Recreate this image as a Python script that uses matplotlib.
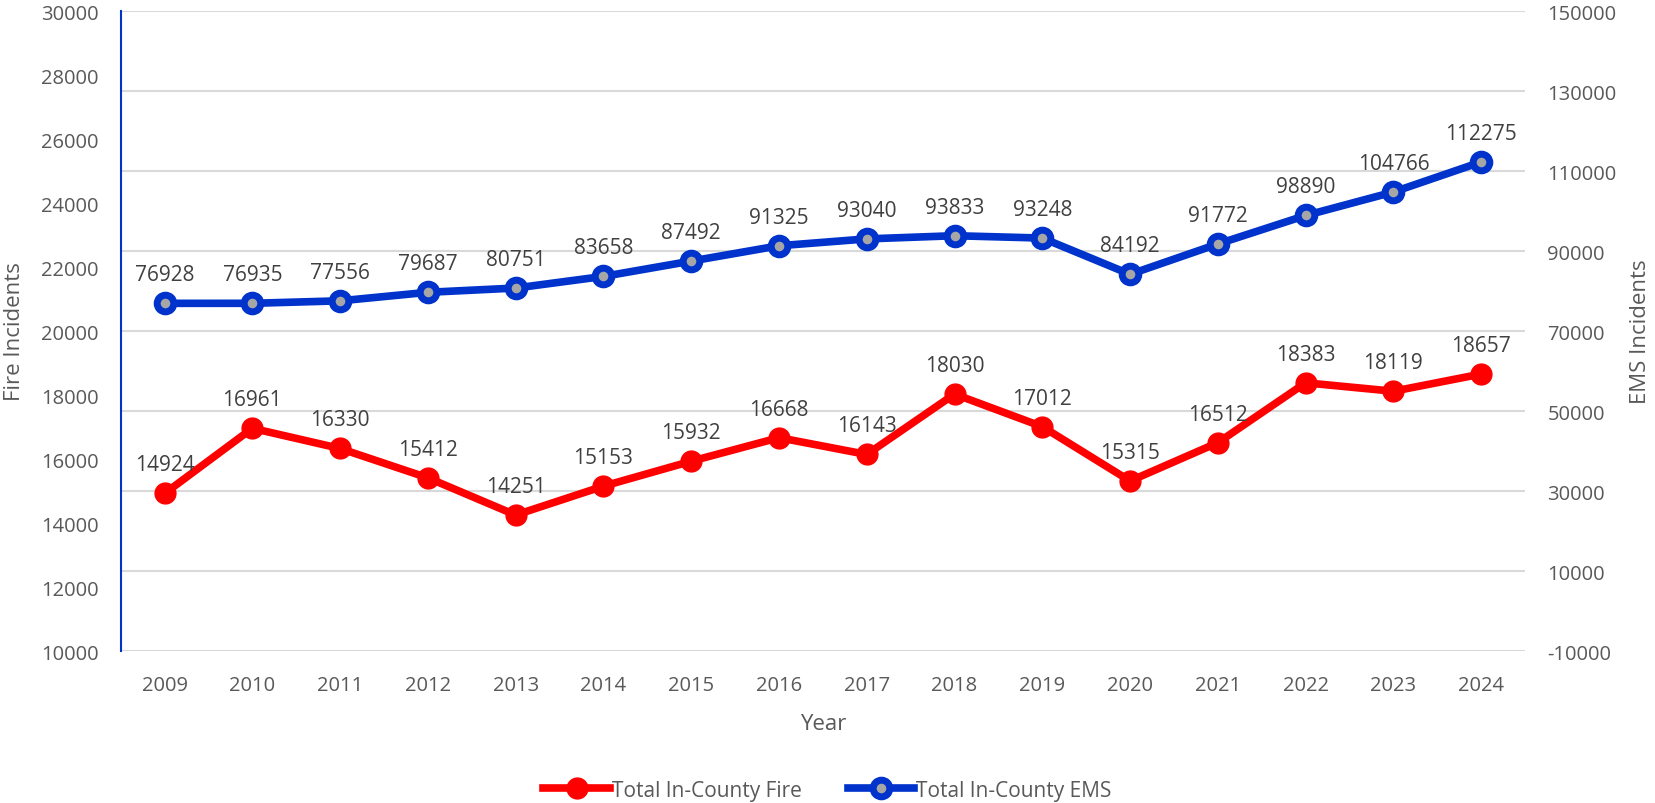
import matplotlib.pyplot as plt
from matplotlib.lines import Line2D

years = [str(y) for y in range(2009, 2025)]
fire = [14924, 16961, 16330, 15412, 14251, 15153, 15932, 16668,
        16143, 18030, 17012, 15315, 16512, 18383, 18119, 18657]
ems = [76928, 76935, 77556, 79687, 80751, 83658, 87492, 91325,
       93040, 93833, 93248, 84192, 91772, 98890, 104766, 112275]

plt.rcParams['font.family'] = ['Open Sans', 'DejaVu Sans']
plt.rcParams['axes.unicode_minus'] = False
grey = '#595959'
red = '#FF0000'
blue = '#0033CC'

fig = plt.figure(figsize=(16.55, 8.04), dpi=100)
ax = fig.add_axes([0.0729, 0.189, 0.8486, 0.796])
ax2 = ax.twinx()

x = list(range(len(years)))

# lignes + marqueurs
ax.plot(x, fire, color=red, linewidth=5.5, marker='o', markersize=15,
        markerfacecolor=red, markeredgecolor=red, zorder=3)
ax2.plot(x, ems, color=blue, linewidth=5.5, marker='o', markersize=12,
         markerfacecolor='#a6a6a6', markeredgecolor=blue, markeredgewidth=5, zorder=3)

# étiquettes de données
for i, v in enumerate(fire):
    ax.annotate(str(v), (i, v), xytext=(0, 13), textcoords='offset points',
                ha='center', va='bottom', fontsize=15, color='#404040')
for i, v in enumerate(ems):
    ax2.annotate(str(v), (i, v), xytext=(0, 13), textcoords='offset points',
                 ha='center', va='bottom', fontsize=15, color='#404040')

ax.set_xlim(-0.5, len(years) - 0.5)
ax.set_ylim(10000, 30000)
ax.set_yticks(range(10000, 30001, 2000))
ax2.set_ylim(-10000, 150000)
ax2.set_yticks(range(-10000, 150001, 20000))
ax.set_xticks(x)
ax.set_xticklabels(years)

ax2.grid(True, axis='y', color='#d9d9d9', linewidth=1.5)
ax2.set_axisbelow(True)
ax.set_zorder(ax2.get_zorder() + 1)
ax.patch.set_visible(False)

for a in (ax, ax2):
    for s in a.spines.values():
        s.set_visible(False)
    a.tick_params(length=0, labelsize=14.5, colors=grey)
ax.spines['left'].set_visible(True)
ax.spines['left'].set_color(blue)
ax.spines['left'].set_linewidth(1.5)
ax.tick_params(axis='y', pad=16)
ax2.tick_params(axis='y', pad=16)
ax.tick_params(axis='x', pad=17)

ax.set_xlabel('Year', fontsize=16, color=grey, labelpad=13)

# titres des axes verticaux placés en coordonnées figure
fig.text(15 / 1655, 0.189 + 0.796 / 2, 'Fire Incidents', rotation=90,
         ha='center', va='center', fontsize=16, color=grey)
fig.text(1641 / 1655, 0.189 + 0.796 / 2, 'EMS Incidents', rotation=90,
         ha='center', va='center', fontsize=16, color=grey)

handles = [
    Line2D([], [], color=red, linewidth=5.5, marker='o', markersize=15,
           markerfacecolor=red, markeredgecolor=red),
    Line2D([], [], color=blue, linewidth=5.5, marker='o', markersize=12,
           markerfacecolor='#a6a6a6', markeredgecolor=blue, markeredgewidth=5),
]
fig.legend(handles, ['Total In-County Fire', 'Total In-County EMS'],
           loc='center', bbox_to_anchor=(0.5, 0.016), ncol=2, frameon=False,
           fontsize=15, labelcolor=grey, handlelength=3.2, handletextpad=0.1,
           columnspacing=2.2)

fig.savefig('out.png', dpi=100)
